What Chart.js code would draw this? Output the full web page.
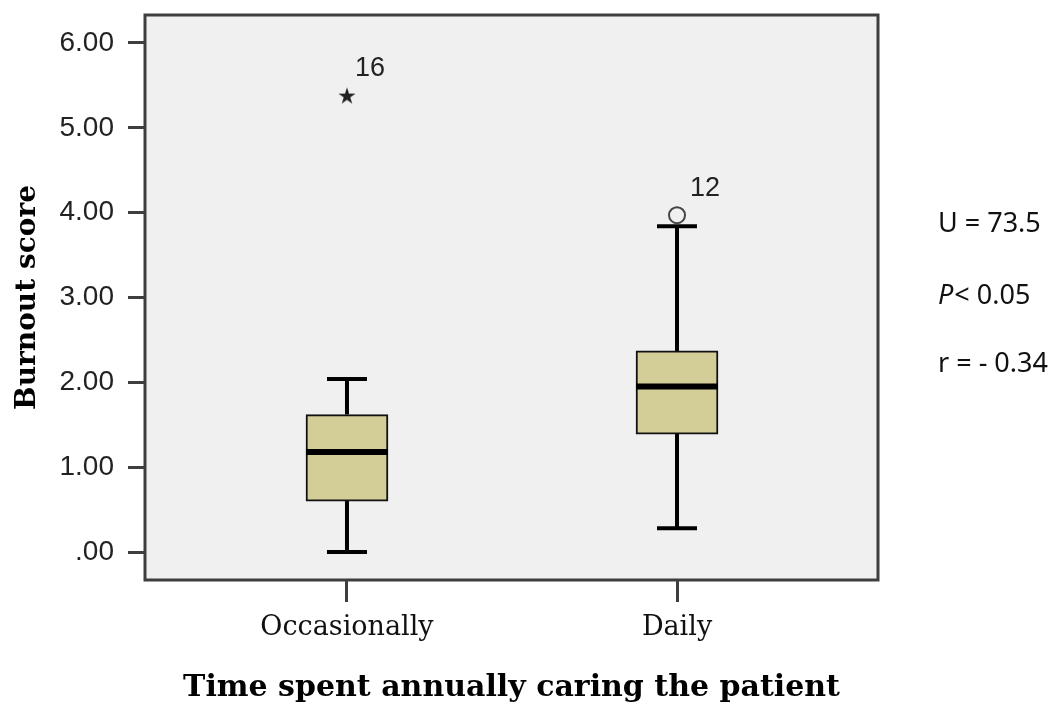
<!DOCTYPE html>
<html><head><meta charset="utf-8">
<script src="https://cdn.jsdelivr.net/npm/chart.js@4"></script>
<style>html,body{margin:0;padding:0;background:#fff}#wrap{width:1052px;height:707px}</style>
</head><body><div id="wrap"><canvas id="c" width="1052" height="707"></canvas></div>
<script>
// ---- data ----
const categories = ['Occasionally', 'Daily'];
const q1 = [0.60, 1.39];
const median = [1.18, 1.95];
const q3 = [1.62, 2.37];
const whiskerLow = [0.00, 0.28];
const whiskerHigh = [2.04, 3.84];
const outlierValues = [5.38, 3.97];
const outlierCase = ['16', '12'];
const outlierKind = ['extreme', 'outlier'];
const yTickValues = [0, 1, 2, 3, 4, 5, 6];
const yTickLabels = ['.00', '1.00', '2.00', '3.00', '4.00', '5.00', '6.00'];
const statItalic = ['', 'P', ''];
const statText = ['U = 73.5', '< 0.05', 'r = - 0.34'];
const xTitle = 'Time spent annually caring the patient';
const yTitle = 'Burnout score';

// ---- styles ----
const BOX_FILL = '#d3ce98';
const PLOT_BG = '#f0f0f0';
const FRAME = '#3e3e3e';
const xPos = categories.map((_, i) => i + 1);

function makeStar() {
  const c = document.createElement('canvas');
  c.width = 20; c.height = 20;
  const g = c.getContext('2d');
  g.fillStyle = '#222';
  g.beginPath();
  for (let k = 0; k < 10; k++) {
    const r = k % 2 === 0 ? 9 : 3.4;
    const a = -Math.PI / 2 + k * Math.PI / 5;
    const px = 10 + r * Math.cos(a), py = 10.8 + r * Math.sin(a);
    k === 0 ? g.moveTo(px, py) : g.lineTo(px, py);
  }
  g.closePath(); g.fill();
  return c;
}
const starImg = makeStar();

const boxPlugin = {
  id: 'boxPlugin',
  beforeDraw(chart) {
    const { ctx, chartArea: a } = chart;
    ctx.save();
    ctx.fillStyle = PLOT_BG;
    ctx.fillRect(a.left, a.top, a.right - a.left, a.bottom - a.top);
    ctx.restore();
  },
  beforeDatasetsDraw(chart) {
    const { ctx, scales: { x, y } } = chart;
    ctx.save();
    ctx.strokeStyle = '#000';
    ctx.lineWidth = 4;
    ctx.lineCap = 'butt';
    categories.forEach((_, i) => {
      const cx = x.getPixelForValue(xPos[i]);
      ctx.beginPath();
      ctx.moveTo(cx, y.getPixelForValue(q3[i])); ctx.lineTo(cx, y.getPixelForValue(whiskerHigh[i]));
      ctx.moveTo(cx, y.getPixelForValue(q1[i])); ctx.lineTo(cx, y.getPixelForValue(whiskerLow[i]));
      ctx.stroke();
      ctx.beginPath();
      [whiskerHigh[i], whiskerLow[i]].forEach(v => {
        const py = y.getPixelForValue(v);
        ctx.moveTo(cx - 20, py); ctx.lineTo(cx + 20, py);
      });
      ctx.stroke();
    });
    ctx.restore();
  },
  afterDatasetsDraw(chart) {
    const { ctx, chartArea: a, scales: { x, y } } = chart;
    const meta = chart.getDatasetMeta(0);
    ctx.save();
    ctx.strokeStyle = '#000';
    ctx.lineWidth = 6;
    categories.forEach((_, i) => {
      const el = meta.data[i];
      const half = el.width / 2;
      const py = y.getPixelForValue(median[i]);
      ctx.beginPath();
      ctx.moveTo(el.x - half, py); ctx.lineTo(el.x + half, py);
      ctx.stroke();
    });
    // outlier case labels
    ctx.fillStyle = '#222';
    ctx.font = '27px "Liberation Sans", Arial, sans-serif';
    ctx.textBaseline = 'middle';
    ctx.textAlign = 'left';
    categories.forEach((_, i) => {
      const px = x.getPixelForValue(xPos[i]);
      const py = y.getPixelForValue(outlierValues[i]);
      const dx = outlierKind[i] === 'extreme' ? 8 : 13;
      ctx.fillText(outlierCase[i], px + dx, py - 27);
    });
    // frame
    ctx.strokeStyle = FRAME;
    ctx.lineWidth = 3;
    ctx.strokeRect(a.left, a.top, a.right - a.left, a.bottom - a.top);
    ctx.restore();
  },
  afterDraw(chart) {
    const { ctx } = chart;
    ctx.save();
    ctx.fillStyle = '#111';
    ctx.textBaseline = 'middle';
    ctx.textAlign = 'left';
    const ys = [224, 296, 364];
    statText.forEach((t, i) => {
      let xx = 938;
      if (statItalic[i]) {
        ctx.font = 'italic 27px "Noto Sans", sans-serif';
        ctx.fillText(statItalic[i], xx, ys[i]);
        xx += ctx.measureText(statItalic[i]).width + 1;
      }
      ctx.font = '27px "Noto Sans", sans-serif';
      ctx.fillText(t, xx, ys[i]);
    });
    ctx.restore();
  }
};

new Chart(document.getElementById('c'), {
  type: 'bar',
  data: {
    datasets: [
      {
        type: 'bar',
        data: categories.map((c, i) => ({ x: xPos[i], y: [q1[i], q3[i]] })),
        backgroundColor: BOX_FILL,
        borderColor: '#111',
        borderWidth: 2,
        borderSkipped: false,
        barThickness: 82
      },
      {
        type: 'scatter',
        data: categories.map((c, i) => ({ x: xPos[i], y: outlierValues[i] })),
        pointStyle: outlierKind.map(k => k === 'extreme' ? starImg : 'circle'),
        pointRadius: 8,
        backgroundColor: PLOT_BG,
        borderColor: '#444',
        borderWidth: 2
      }
    ]
  },
  options: {
    responsive: false,
    animation: false,
    events: [],
    layout: { padding: { top: 15, right: 174, left: 0, bottom: 0 } },
    plugins: { legend: { display: false }, tooltip: { enabled: false } },
    scales: {
      x: {
        type: 'linear', min: 0.388, max: 2.609, offset: false,
        afterBuildTicks: s => { s.ticks = xPos.map(v => ({ value: v })); },
        afterFit: s => { s.height = 127; s.paddingLeft = 0; s.paddingRight = 0; },
        ticks: {
          callback: v => categories[v - 1],
          font: { family: 'DejaVu Serif', size: 27 },
          color: '#111', padding: 10, autoSkip: false, maxRotation: 0
        },
        grid: { offset: false, drawOnChartArea: false, drawTicks: true, tickLength: 22, tickColor: FRAME, tickWidth: 3 },
        border: { display: false },
        title: {
          display: true, text: xTitle, color: '#000',
          font: { family: 'DejaVu Serif', size: 30, weight: 'bold' },
          padding: { top: 0, bottom: 1 }
        }
      },
      y: {
        min: -0.33, max: 6.33,
        afterBuildTicks: s => { s.ticks = yTickValues.map(v => ({ value: v })); },
        afterFit: s => { s.width = 145; s.paddingTop = 0; s.paddingBottom = 0; },
        ticks: {
          callback: (v, i) => yTickLabels[i],
          font: { family: 'Liberation Sans', size: 28 },
          color: '#222', padding: 14
        },
        grid: { drawOnChartArea: false, drawTicks: true, tickLength: 17, tickColor: FRAME, tickWidth: 3 },
        border: { display: false },
        title: {
          display: true, text: yTitle, color: '#000',
          font: { family: 'DejaVu Serif', size: 28, weight: 'bold' },
          padding: { top: 11, bottom: 0 }
        }
      }
    }
  },
  plugins: [boxPlugin]
});
</script>
</body></html>
